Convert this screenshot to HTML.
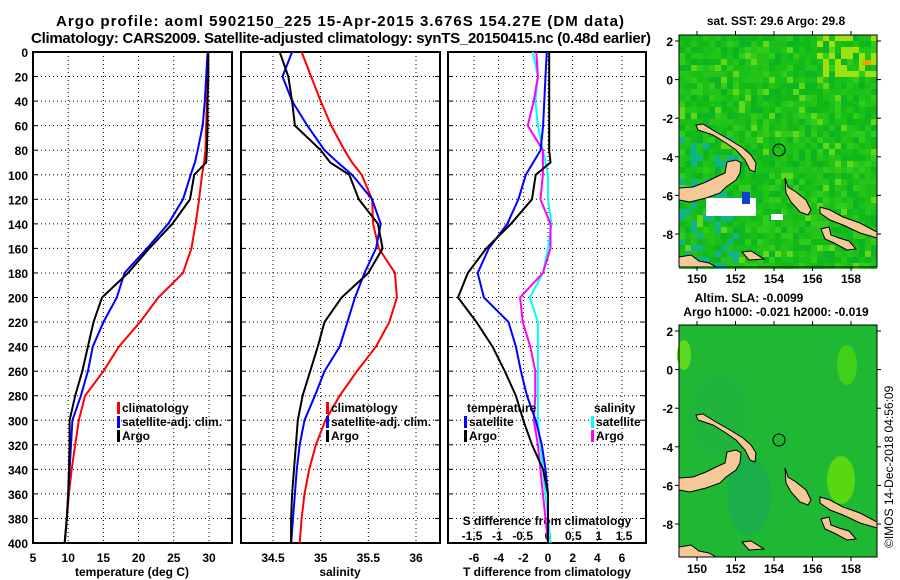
<!DOCTYPE html>
<html><head><meta charset="utf-8">
<style>
html,body{margin:0;padding:0;background:#fff;}
svg{display:block;font-family:"Liberation Sans",sans-serif;font-weight:bold;}
</style></head>
<body>
<svg id="fig" width="900" height="580" viewBox="0 0 900 580" xmlns="http://www.w3.org/2000/svg">
<text x="340" y="26" font-size="15" text-anchor="middle" textLength="568">Argo profile: aoml 5902150_225 15-Apr-2015 3.676S 154.27E (DM data)</text>
<text x="341" y="43" font-size="15" text-anchor="middle" textLength="620">Climatology: CARS2009. Satellite-adjusted climatology: synTS_20150415.nc (0.48d earlier)</text>
<g id="p1"></g>
<g id="p2"></g>
<g id="p3"></g>
<g id="m1"></g>
<g id="m2"></g>
<text x="776" y="25" font-size="12" text-anchor="middle">sat. SST: 29.6 Argo: 29.8</text>
<text x="749" y="302" font-size="12" text-anchor="middle">Altim. SLA: -0.0099</text>
<text x="776" y="316" font-size="12" text-anchor="middle">Argo h1000: -0.021 h2000: -0.019</text>
<text transform="translate(893,548) rotate(-90)" font-size="12" font-weight="normal">©IMOS 14-Dec-2018 04:56:09</text>
</svg>
<script>
const NS="http://www.w3.org/2000/svg";
// ---- data ----
const depths=[0,20,40,60,80,90,100,120,140,160,180,200,220,240,260,280,300,320,340,360,380,400];
const tempClim=[29.8,29.8,29.7,29.6,29.5,29.3,29.0,28.6,28.1,27.5,26.3,22.8,20.2,17.2,15.0,12.4,11.5,11.0,10.5,10.1,9.8,9.5];
const tempSat=[29.8,29.6,29.4,29.1,28.4,28.0,27.4,26.3,24.2,21.2,18.0,16.9,15.0,13.5,12.8,11.8,10.6,10.4,10.2,10.0,9.8,9.5];
const tempArgo=[29.9,29.9,29.8,29.8,29.7,29.6,27.9,27.3,24.8,21.5,18.5,14.8,13.6,12.8,12.0,11.0,10.2,10.2,10.1,10.0,9.8,9.5];
const salClim=[34.80,34.90,35.00,35.11,35.25,35.33,35.43,35.54,35.55,35.61,35.78,35.80,35.72,35.58,35.38,35.20,35.05,34.95,34.88,34.83,34.80,34.78];
const salSat=[34.70,34.60,34.70,34.86,35.04,35.18,35.33,35.54,35.63,35.58,35.46,35.36,35.28,35.20,35.04,34.94,34.83,34.78,34.75,34.73,34.71,34.69];
const salArgo=[34.57,34.66,34.70,34.73,35.00,35.10,35.30,35.40,35.60,35.65,35.50,35.22,35.04,34.97,34.89,34.81,34.76,34.74,34.72,34.70,34.69,34.69];
const dTsat=[-0.1,-0.2,-0.3,-0.4,-0.6,-1.2,-1.8,-2.4,-3.3,-4.8,-5.7,-5.2,-3.2,-2.6,-2.2,-1.7,-1.0,-0.5,-0.2,0,0,0];
const dTargo=[0.1,0.1,0.1,0.1,0.1,0.2,-1.0,-1.3,-3.0,-5.0,-6.5,-7.3,-5.8,-4.5,-3.5,-2.6,-2.0,-1.3,-0.4,0,0,0];
const dSsat=[-0.3,-0.2,-0.25,-0.2,-0.1,-0.05,0,0,0.07,0,-0.1,-0.36,-0.2,-0.2,-0.2,-0.2,-0.2,-0.15,-0.1,-0.05,0,0.05];
const dSargo=[-0.23,-0.2,-0.28,-0.4,-0.1,-0.1,-0.1,-0.15,0.05,0.05,-0.1,-0.55,-0.5,-0.35,-0.25,-0.25,-0.28,-0.2,-0.15,-0.1,-0.05,0];
const depthTicks=[0,20,40,60,80,100,120,140,160,180,200,220,240,260,280,300,320,340,360,380,400];
const tempTicks=[5,10,15,20,25,30];
const salTicks=[34.5,35,35.5,36];
const dTTicks=[-6,-4,-2,0,2,4,6];
const dSTicks=[-1.5,-1,-0.5,0,0.5,1,1.5];
const latTicks=[2,0,-2,-4,-6,-8];
const lonTicks=[150,152,154,156,158];

function el(tag,attrs,parent,text){const e=document.createElementNS(NS,tag);for(const k in attrs)e.setAttribute(k,attrs[k]);if(text!==undefined)e.textContent=text;(parent||document.getElementById('fig')).appendChild(e);return e;}
const Y0=52,Y1=543;
const yD=d=>Y0+d/400*(Y1-Y0);
function lin(d0,d1,r0,r1){return v=>r0+(v-d0)/(d1-d0)*(r1-r0);}

function panel(g,x0,x1,xs,xticks,fmt,leftLabels){
  el('rect',{x:x0,y:Y0,width:x1-x0,height:Y1-Y0,fill:'#fff',stroke:'#000','stroke-width':2},g);
  for(const t of xticks){const x=xs(t);
    const l=el('line',{x1:x,x2:x,y1:Y0,y2:Y1,stroke:'#000','stroke-dasharray':'1,3','stroke-width':1},g);
    
    if(fmt){const tx=el('text',{x:x,y:562,'font-size':12,'text-anchor':'middle'},g,fmt(t));
    }
  }
  for(const d of depthTicks){const y=yD(d);
    if(d>0&&d<400){const l=el('line',{x1:x0,x2:x1,y1:y,y2:y,stroke:'#000','stroke-dasharray':'1,3','stroke-width':1},g);
    }
    el('line',{x1:x0,x2:x0+5,y1:y,y2:y,stroke:'#000'},g);
    el('line',{x1:x1-5,x2:x1,y1:y,y2:y,stroke:'#000'},g);
    if(leftLabels){const tx=el('text',{x:x0-5,y:y+5,'font-size':12,'text-anchor':'end'},g,String(d));
    }
  }
}
function series(g,vals,xs,color,name){
  const pts=vals.map((v,i)=>xs(v).toFixed(1)+','+yD(depths[i]).toFixed(1)).join(' ');
  const p=el('polyline',{points:pts,fill:'none',stroke:color,'stroke-width':2},g);
  
}
function legend(g,x,y,color,label){
  el('rect',{x:x,y:y-10,width:3,height:12,fill:color},g);
  const t=el('text',{x:x+5,y:y,'font-size':12},g,label);
  
}
// Panel 1
const g1=document.getElementById('p1');
const xT=lin(5,30,33,209);
panel(g1,33,232,xT,tempTicks,String,true);
series(g1,tempClim,xT,'#f00','climatology-temp-line');
series(g1,tempSat,xT,'#00f','satellite-temp-line');
series(g1,tempArgo,xT,'#000','argo-temp-line');
legend(g1,117,412,'#f00','climatology');legend(g1,117,426,'#00f','satellite-adj. clim.');legend(g1,117,440,'#000','Argo');
el('text',{x:132,y:576,'font-size':12,'text-anchor':'middle'},g1,'temperature (deg C)');
// Panel 2
const g2=document.getElementById('p2');
const xS=lin(34.5,36,273,416);
panel(g2,241,440,xS,salTicks,String,false);
series(g2,salClim,xS,'#f00','climatology-sal-line');
series(g2,salSat,xS,'#00f','satellite-sal-line');
series(g2,salArgo,xS,'#000','argo-sal-line');
legend(g2,326,412,'#f00','climatology');legend(g2,326,426,'#00f','satellite-adj. clim.');legend(g2,326,440,'#000','Argo');
el('text',{x:340,y:576,'font-size':12,'text-anchor':'middle'},g2,'salinity');
// Panel 3
const g3=document.getElementById('p3');
const xDT=lin(0,6,548,622);
const xDS=lin(0,1.5,548,624);
panel(g3,448,646,xDT,dTTicks,String,false);
for(const s of dSTicks){const t=el('text',{x:xDS(s),y:540,'font-size':12,'text-anchor':'middle'},g3,String(s));}
el('text',{x:547,y:525,'font-size':12,'text-anchor':'middle'},g3,'S difference from climatology');
el('text',{x:547,y:576,'font-size':12,'text-anchor':'middle'},g3,'T difference from climatology');
series(g3,dSsat,xDS,'#0ff','sal-satellite-diff-line');
series(g3,dSargo,xDS,'#f0f','sal-argo-diff-line');
series(g3,dTsat,xDT,'#00f','temp-satellite-diff-line');
series(g3,dTargo,xDT,'#000','temp-argo-diff-line');
el('text',{x:467,y:412,'font-size':12},g3,'temperature');
legend(g3,464,426,'#00f','satellite');legend(g3,464,440,'#000','Argo');
el('text',{x:594,y:412,'font-size':12},g3,'salinity');
legend(g3,591,426,'#0ff','satellite');legend(g3,591,440,'#f0f','Argo');

// Maps
const lands=[
[[0,153],[14,152],[27,147],[37,142],[46,138],[48,127],[57,125],[62,128],[61,138],[57,145],[47,152],[41,158],[27,163],[11,167],[0,165]],
[[17,90],[24,89],[37,97],[51,105],[64,113],[72,120],[77,128],[76,137],[71,135],[66,125],[57,115],[47,108],[34,100],[19,95]],
[[106,143],[109,152],[117,157],[127,165],[132,175],[129,180],[121,177],[112,167],[107,158]],
[[141,172],[151,175],[164,182],[181,188],[198,197],[198,203],[181,198],[164,190],[151,185],[141,178]],
[[142,194],[150,192],[152,200],[160,203],[170,206],[177,214],[168,215],[155,208],[146,204]],
[[0,222],[12,220],[20,226],[30,228],[37,232],[0,232]],
[[63,217],[72,216],[85,224],[70,225]]
];
let seed=7;function rnd(){seed=(seed*16807)%2147483647;return seed/2147483647;}
function map(id,ox,oy,speckle){
  const g=document.getElementById(id);
  const W=198,H=232;
  if(speckle){
    el('rect',{x:ox,y:oy,width:W,height:H,fill:'#18c018'},g);
    const cols=['#14ba14','#22c41a','#10b820','#30cc1c','#18c018','#18c018','#26c418','#0cb424'];
    for(let j=0;j<H;j+=6)for(let i=0;i<W;i+=6){
      let c=cols[Math.floor(rnd()*cols.length)];
      const r=rnd();
      if(r<0.05)c='#60d818';
      if(i>135&&j<40&&rnd()<0.45)c='#9ee010';
      if(i<60&&j>100&&rnd()<0.25)c='#10b48c';
      el('rect',{x:ox+i,y:oy+j,width:6,height:6,fill:c},g);
    }
    el('rect',{x:ox+27,y:oy+163,width:50,height:18,fill:'#fff'},g);
    el('rect',{x:ox+92,y:oy+179,width:12,height:6,fill:'#fff'},g);
    el('rect',{x:ox+63,y:oy+157,width:8,height:12,fill:'#1040d0'},g);
    el('rect',{x:ox+184,y:oy+25,width:8,height:5,fill:'#f0a000'},g);
  } else {
    el('rect',{x:ox,y:oy,width:W,height:H,fill:'#1eb834'},g);
    el('ellipse',{cx:ox+70,cy:oy+170,rx:22,ry:40,fill:'#18a85a',opacity:0.6},g);
    el('ellipse',{cx:ox+40,cy:oy+90,rx:30,ry:40,fill:'#22b040',opacity:0.5},g);
    el('ellipse',{cx:ox+168,cy:oy+40,rx:10,ry:20,fill:'#40d018'},g);
    el('ellipse',{cx:ox+162,cy:oy+155,rx:14,ry:24,fill:'#58d810'},g);
    el('ellipse',{cx:ox+5,cy:oy+30,rx:7,ry:15,fill:'#60d820'},g);
  }
  for(const L of lands){const p=el('polygon',{points:L.map(q=>(ox+q[0])+','+(oy+q[1])).join(' '),fill:'#f5c898',stroke:'#000','stroke-width':1},g);
    }
  el('circle',{cx:ox+100,cy:oy+115,r:6,fill:'none',stroke:'#000','stroke-width':1},g);
  el('rect',{x:ox,y:oy,width:W,height:H,fill:'none',stroke:'#000','stroke-width':1},g);
  const lonX=lin(150,158,ox+18,ox+172), latY=lin(2,-8,oy+6,oy+199);
  for(const la of latTicks){const y=latY(la);
    el('line',{x1:ox-4,x2:ox,y1:y,y2:y,stroke:'#000'},g);el('line',{x1:ox+W,x2:ox+W+4,y1:y,y2:y,stroke:'#000'},g);
    el('text',{x:ox-6,y:y+5,'font-size':12,'text-anchor':'end'},g,String(la));}
  for(const lo of lonTicks){const x=lonX(lo);
    el('line',{x1:x,x2:x,y1:oy+H,y2:oy+H+4,stroke:'#000'},g);el('line',{x1:x,x2:x,y1:oy-4,y2:oy,stroke:'#000'},g);
    el('text',{x:x,y:oy+H+16,'font-size':12,'text-anchor':'middle'},g,String(lo));}
}
map('m1',679,35,true);
map('m2',679,325,false);
</script>
</body></html>
